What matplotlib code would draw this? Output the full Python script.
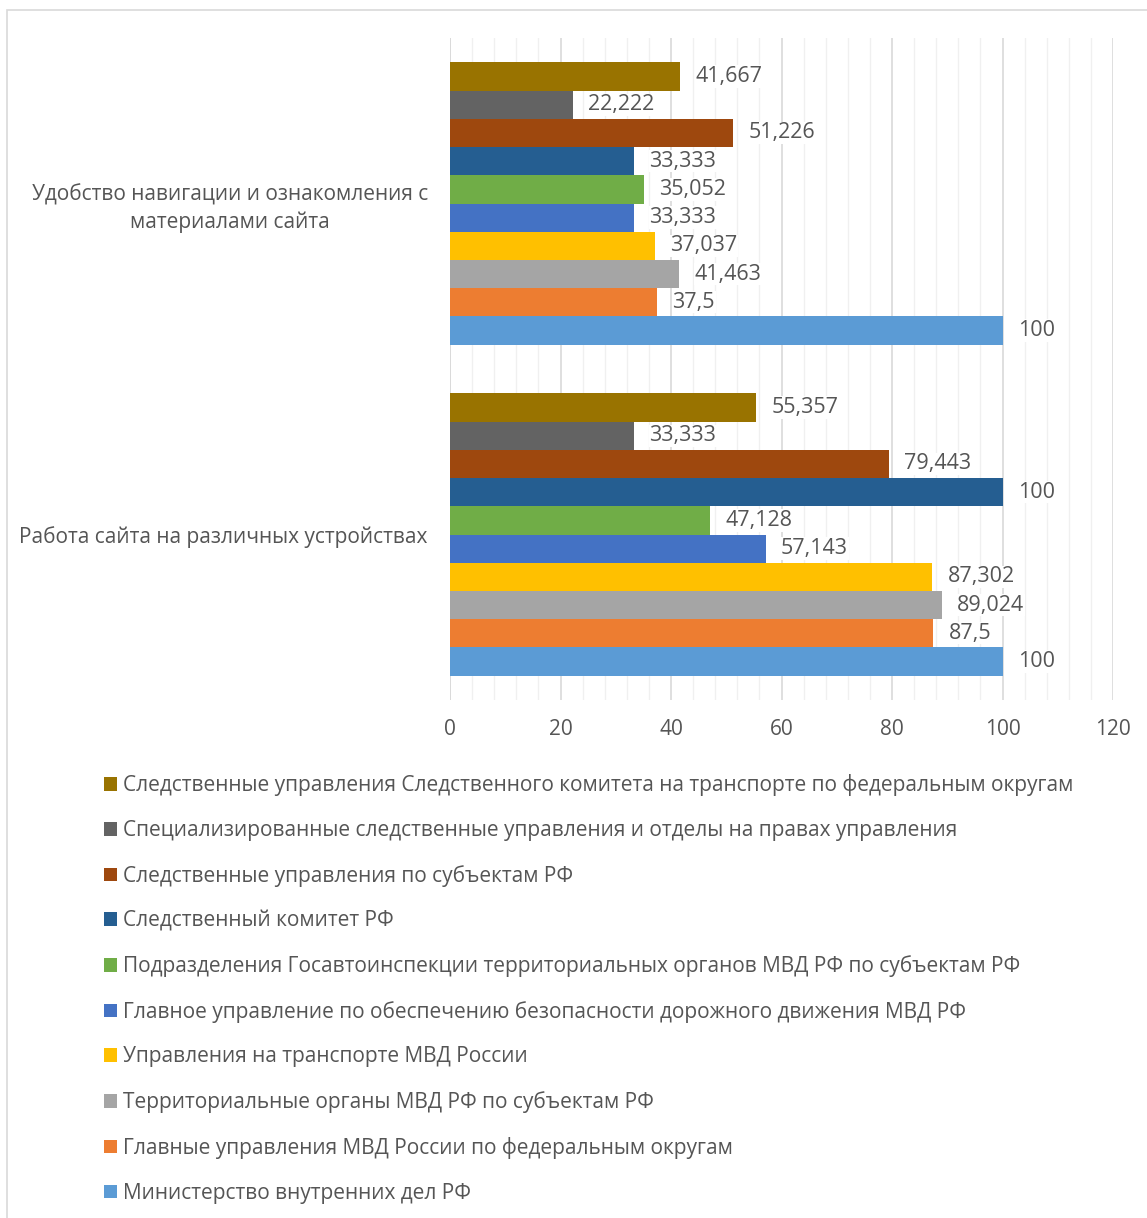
import matplotlib.pyplot as plt
from matplotlib.patches import Rectangle
from matplotlib.ticker import MultipleLocator
import numpy as np

plt.rcParams['font.family'] = ['Open Sans', 'DejaVu Sans']

categories = [
    "Работа сайта на различных устройствах",
    "Удобство навигации и ознакомления с\nматериалами сайта",
]

# series from bottom of each group to top
series_names = [
    "Министерство внутренних дел РФ",
    "Главные управления МВД России по федеральным округам",
    "Территориальные органы МВД РФ по субъектам РФ",
    "Управления на транспорте МВД России",
    "Главное управление по обеспечению безопасности дорожного движения МВД РФ",
    "Подразделения Госавтоинспекции территориальных органов МВД РФ по субъектам РФ",
    "Следственный комитет РФ",
    "Следственные управления по субъектам РФ",
    "Специализированные следственные управления и отделы на правах управления",
    "Следственные управления Следственного комитета на транспорте по федеральным округам",
]

# values per series: [Работа сайта, Удобство навигации]
vals_mvd = [100, 100]
vals_gu = [87.5, 37.5]
vals_terr = [89.024, 41.463]
vals_transp = [87.302, 37.037]
vals_gubdd = [57.143, 33.333]
vals_gai = [47.128, 35.052]
vals_sk = [100, 33.333]
vals_su_subj = [79.443, 51.226]
vals_spec = [33.333, 22.222]
vals_su_transp = [55.357, 41.667]

series_values = [vals_mvd, vals_gu, vals_terr, vals_transp, vals_gubdd,
                 vals_gai, vals_sk, vals_su_subj, vals_spec, vals_su_transp]

colors = ["#5B9BD5", "#ED7D31", "#A5A5A5", "#FFC000", "#4472C4",
          "#70AD47", "#255E91", "#9E480E", "#636363", "#997300"]

text_col = "#555555"

fig = plt.figure(figsize=(11.47, 12.18), dpi=100)

# light border around chart area
fig.patches.append(Rectangle((7 / 1147, -0.1), 1.2, 1 - 10 / 1218 + 0.1,
                             transform=fig.transFigure, fill=False,
                             edgecolor="#D9D9D9", linewidth=1.2))

ax = fig.add_axes([450 / 1147, 1 - 700 / 1218, 663 / 1147, 662 / 1218])

n = len(series_names)
bar_h = 0.0852
y = np.arange(len(categories))

bars = []
for i, (name, vals, c) in enumerate(zip(series_names, series_values, colors)):
    pos = y + (i - (n - 1) / 2) * bar_h
    b = ax.barh(pos, vals, height=bar_h, color=c, label=name, zorder=3)
    bars.append(b)
    for p, v in zip(pos, vals):
        lbl = f"{v:g}".replace(".", ",")
        ax.annotate(lbl, (v, p), xytext=(11, 0), textcoords="offset points",
                    ha="left", va="center", fontsize=15.5, color=text_col,
                    zorder=4,
                    bbox=dict(facecolor="white", edgecolor="none", pad=0.5))

ax.set_xlim(0, 120)
ax.set_ylim(-0.5, 1.5)
ax.xaxis.set_major_locator(MultipleLocator(20))
ax.xaxis.set_minor_locator(MultipleLocator(4))
ax.grid(axis="x", which="major", color="#D9D9D9", linewidth=1.2, zorder=0)
ax.grid(axis="x", which="minor", color="#F0F0F0", linewidth=1.0, zorder=0)
ax.set_axisbelow(True)
for s in ax.spines.values():
    s.set_visible(False)
ax.axvline(0, color="#D9D9D9", linewidth=1.2, zorder=1)

ax.set_yticks(y)
ax.set_yticklabels(categories, multialignment="center", linespacing=1.35)
ax.tick_params(axis="y", length=0, pad=16, labelsize=15, labelcolor=text_col)
ax.tick_params(axis="x", which="both", length=0, pad=14, labelsize=15,
               labelcolor=text_col)

handles = bars[::-1]
labels = series_names[::-1]
leg = fig.legend(handles, labels, loc="upper left",
                 bbox_to_anchor=(96 / 1147, 1 - 766 / 1218),
                 frameon=False, fontsize=15, labelcolor=text_col,
                 handlelength=0.62, handleheight=0.62, handletextpad=0.28,
                 labelspacing=1.14, borderaxespad=0)

fig.savefig("out.png", dpi=100)
